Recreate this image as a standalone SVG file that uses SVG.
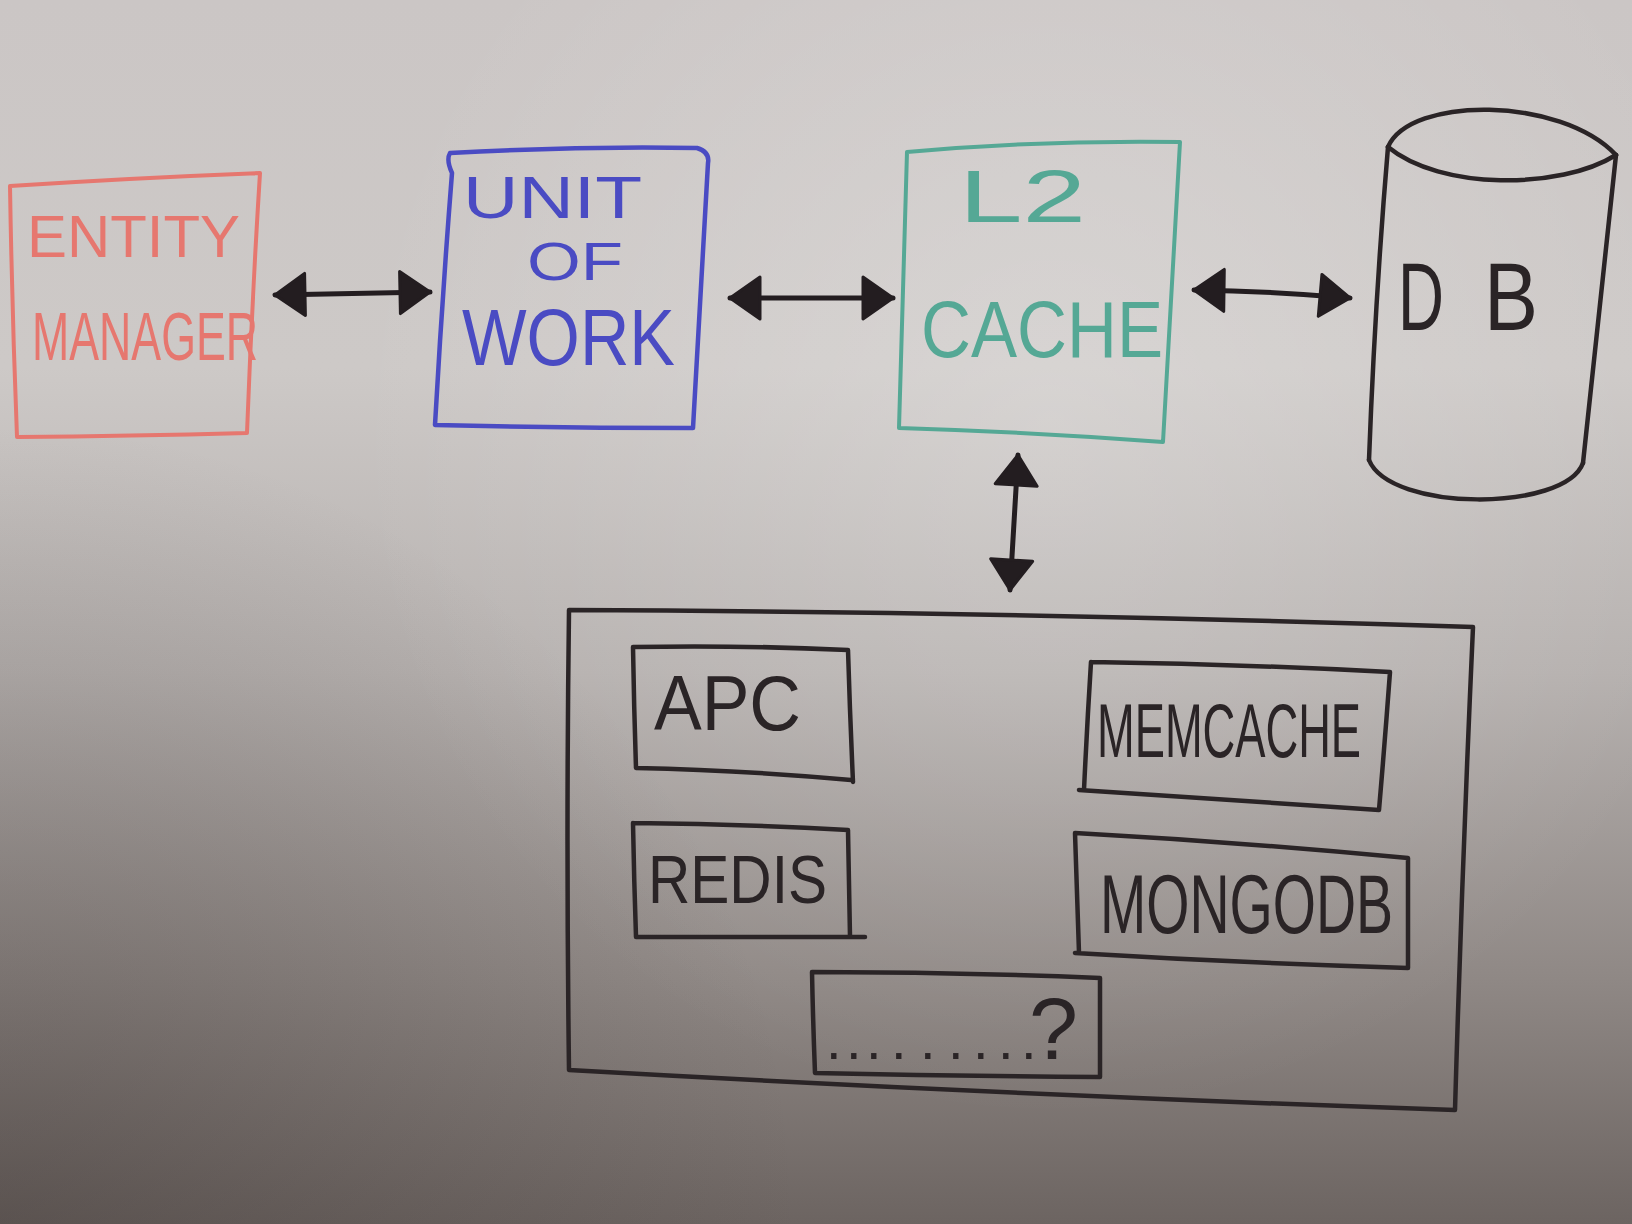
<svg xmlns="http://www.w3.org/2000/svg" width="1632" height="1224" viewBox="0 0 1632 1224">
  <defs>
    <linearGradient id="bg" x1="0" y1="0" x2="0" y2="1">
      <stop offset="0" stop-color="#cbc6c5"/>
      <stop offset="0.3" stop-color="#cdc9c7"/>
      <stop offset="0.55" stop-color="#b5b0ae"/>
      <stop offset="0.8" stop-color="#8f8885"/>
      <stop offset="1" stop-color="#6c6461"/>
    </linearGradient>
    <radialGradient id="glow" cx="1050" cy="420" r="700" gradientUnits="userSpaceOnUse">
      <stop offset="0" stop-color="#ffffff" stop-opacity="0.22"/>
      <stop offset="1" stop-color="#ffffff" stop-opacity="0"/>
    </radialGradient>
    <radialGradient id="shade" cx="0" cy="1224" r="800" gradientUnits="userSpaceOnUse">
      <stop offset="0" stop-color="#3a3230" stop-opacity="0.35"/>
      <stop offset="1" stop-color="#3a3230" stop-opacity="0"/>
    </radialGradient>
    <marker id="head" viewBox="0 0 34 46" refX="32" refY="23" markerWidth="34" markerHeight="46" markerUnits="userSpaceOnUse" orient="auto-start-reverse">
      <path d="M2,2 L32,23 L2,44 Z" fill="#231d20" stroke="#231d20" stroke-width="3" stroke-linejoin="round"/>
    </marker>
    <style>
      .ink { fill: none; stroke-linecap: round; stroke-linejoin: round; }
      .red { stroke: #e6776f; stroke-width: 4; }
      .blue { stroke: #4a4bc3; stroke-width: 4.5; }
      .teal { stroke: #55a895; stroke-width: 4; }
      .blk { stroke: #2a2426; stroke-width: 4.5; }
      .conn { stroke: #231d20; stroke-width: 5; fill: none; stroke-linecap: round; marker-start: url(#head); marker-end: url(#head); }
      text { font-family: "Liberation Sans", "DejaVu Sans", sans-serif; font-weight: normal; }
      .tred { fill: #e6776f; }
      .tblue { fill: #4a4bc3; }
      .tteal { fill: #55a895; }
      .tblk { fill: #2a2426; }
    </style>
  </defs>

  <rect x="0" y="0" width="1632" height="1224" fill="url(#bg)"/>
  <rect x="0" y="0" width="1632" height="1224" fill="url(#glow)"/>
  <rect x="0" y="0" width="1632" height="1224" fill="url(#shade)"/>

  <g id="entity-manager">
    <path class="ink red" d="M10,186 Q130,178 260,173 Q252,300 247,433 Q130,436 17,437 Q12,310 10,186 Z"/>
    <text class="tred" x="27" y="257" font-size="60" textLength="213" lengthAdjust="spacingAndGlyphs">ENTITY</text>
    <text class="tred" x="32" y="360" font-size="68" textLength="226" lengthAdjust="spacingAndGlyphs">MANAGER</text>
  </g>

  <g id="unit-of-work">
    <path class="ink blue" d="M452,173 Q446,160 450,153 Q575,146 697,148 Q710,152 708,163 Q700,300 693,428 Q565,428 435,425 Q442,300 452,173 Z"/>
    <text class="tblue" x="463" y="218" font-size="60" textLength="179" lengthAdjust="spacingAndGlyphs">UNIT</text>
    <text class="tblue" x="527" y="280" font-size="54" textLength="96" lengthAdjust="spacingAndGlyphs">OF</text>
    <text class="tblue" x="462" y="365" font-size="80" textLength="213" lengthAdjust="spacingAndGlyphs">WORK</text>
  </g>

  <g id="l2-cache">
    <path class="ink teal" d="M907,152 Q1040,140 1180,142 Q1172,290 1163,442 Q1030,432 899,428 Q903,290 907,152 Z"/>
    <text class="tteal" x="959" y="222" font-size="75" textLength="127" lengthAdjust="spacingAndGlyphs">L2</text>
    <text class="tteal" x="921" y="357" font-size="79" textLength="242" lengthAdjust="spacingAndGlyphs">CACHE</text>
  </g>

  <g id="db">
    <path class="ink blk" d="M1388,147 C1410,96 1560,96 1616,155"/>
    <path class="ink blk" d="M1388,147 C1440,190 1560,190 1616,155"/>
    <path class="ink blk" d="M1388,147 Q1375,300 1369,460"/>
    <path class="ink blk" d="M1616,155 Q1600,310 1583,463"/>
    <path class="ink blk" d="M1369,460 C1390,512 1565,512 1583,463"/>
    <text class="tblk" y="330" font-size="96"><tspan x="1398" textLength="46" lengthAdjust="spacingAndGlyphs">D</tspan><tspan x="1484" textLength="54" lengthAdjust="spacingAndGlyphs">B</tspan></text>
  </g>

  <g id="cache-backends">
    <path class="ink blk" d="M569,610 Q1020,612 1473,627 Q1462,870 1455,1110 Q1010,1095 569,1070 Q566,840 569,610 Z"/>
  </g>

  <g id="apc">
    <path class="ink blk" d="M633,647 Q740,645 848,650 Q850,716 853,782 M851,780 Q740,770 636,768 Q634,708 633,647"/>
    <text class="tblk" x="654" y="730" font-size="78" textLength="147" lengthAdjust="spacingAndGlyphs">APC</text>
  </g>

  <g id="memcache">
    <path class="ink blk" d="M1091,662 Q1240,664 1390,672 Q1385,740 1379,810 Q1230,800 1079,790 M1084,790 Q1087,726 1091,662"/>
    <text class="tblk" x="1097" y="757" font-size="76" textLength="264" lengthAdjust="spacingAndGlyphs">MEMCACHE</text>
  </g>

  <g id="redis">
    <path class="ink blk" d="M633,823 Q740,824 848,830 Q849,884 850,937 M865,937 Q750,937 636,937 Q634,880 633,823"/>
    <text class="tblk" x="648" y="903" font-size="68" textLength="179" lengthAdjust="spacingAndGlyphs">REDIS</text>
  </g>

  <g id="mongodb">
    <path class="ink blk" d="M1075,833 Q1240,842 1408,858 Q1408,913 1408,968 Q1240,963 1075,953 M1079,953 Q1077,893 1075,833"/>
    <text class="tblk" x="1100" y="933" font-size="84" textLength="293" lengthAdjust="spacingAndGlyphs">MONGODB</text>
  </g>

  <g id="unknown">
    <path class="ink blk" d="M812,972 Q956,972 1100,978 Q1100,1028 1100,1077 Q958,1076 815,1073 Q813,1022 812,972 Z"/>
    <text class="tblk" y="1059"><tspan font-size="56" x="826 846 866 891 920 948 973 998 1021">.........</tspan><tspan font-size="88" x="1029">?</tspan></text>
  </g>

  <g id="connectors">
    <path class="conn" d="M275,295 L430,292"/>
    <path class="conn" d="M730,298 L893,298"/>
    <path class="conn" d="M1194,290 Q1270,291 1350,298"/>
    <path class="conn" d="M1018,455 Q1014,520 1010,590"/>
  </g>
</svg>
